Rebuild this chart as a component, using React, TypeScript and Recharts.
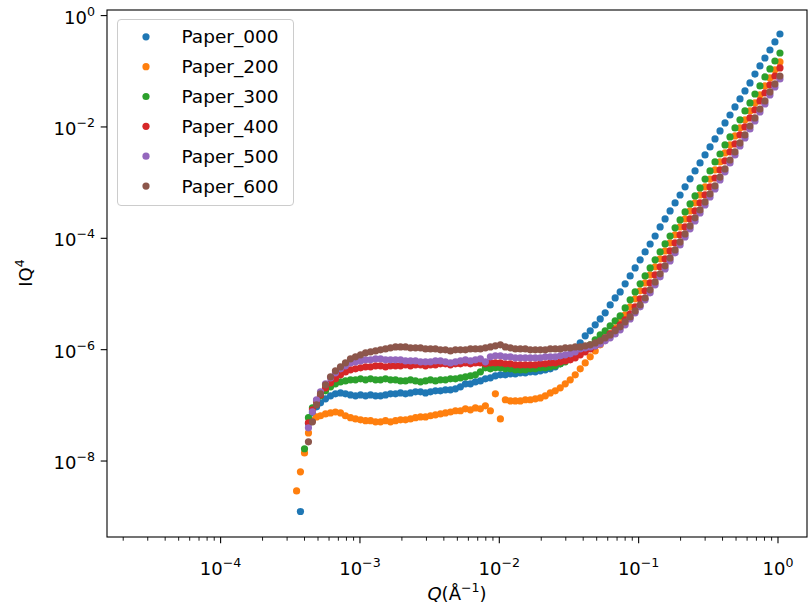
import React from "react";
import { ScatterChart, Scatter, XAxis, YAxis } from "recharts";

// Q grid (1/Å) shared by all samples; null = no point at that Q
const qValues = [
  3.51e-4, 3.74e-4, 4.0e-4, 4.27e-4, 4.56e-4, 4.88e-4, 5.21e-4,
  5.66e-4, 6.15e-4, 6.67e-4, 7.25e-4, 7.87e-4, 8.55e-4, 9.29e-4,
  1.01e-3, 1.097e-3, 1.191e-3, 1.294e-3, 1.405e-3, 1.526e-3, 1.657e-3, 1.8e-3, 1.955e-3, 2.123e-3,
  2.305e-3, 2.504e-3, 2.719e-3, 2.953e-3, 3.207e-3, 3.482e-3, 3.782e-3, 4.107e-3, 4.46e-3, 4.844e-3,
  5.26e-3, 5.713e-3, 6.204e-3, 6.737e-3, 7.317e-3, 7.946e-3, 8.629e-3, 9.371e-3, 1.018e-2, 1.105e-2,
  1.2e-2, 1.303e-2, 1.415e-2, 1.537e-2, 1.669e-2, 1.813e-2, 1.969e-2, 2.138e-2, 2.322e-2, 2.521e-2,
  2.738e-2, 2.974e-2, 3.229e-2, 3.507e-2, 3.809e-2, 4.136e-2, 4.492e-2, 4.878e-2, 5.298e-2, 5.753e-2,
  6.248e-2, 6.785e-2, 7.369e-2, 8.002e-2, 8.691e-2, 9.438e-2, 0.1025, 0.1113, 0.1209, 0.1313,
  0.1426, 0.1548, 0.1681, 0.1826, 0.1983, 0.2154, 0.2339, 0.254, 0.2758, 0.2996,
  0.3253, 0.3533, 0.3837, 0.4167, 0.4525, 0.4914, 0.5337, 0.5796, 0.6294, 0.6835,
  0.7423, 0.8062, 0.8755, 0.9508, 1.033,
];

const paper000 = [
  null, 1.24e-9, null, 4.7e-8, 7.3e-8, 9.4e-8, 1.11e-7,
  1.31e-7, 1.48e-7, 1.61e-7, 1.67e-7, 1.61e-7, 1.54e-7, 1.48e-7,
  1.54e-7, 1.48e-7, 1.54e-7, 1.48e-7, 1.48e-7, 1.54e-7, 1.61e-7, 1.61e-7, 1.67e-7, 1.61e-7,
  1.67e-7, 1.75e-7, 1.75e-7, 1.67e-7, 1.75e-7, 1.82e-7, 1.82e-7, 1.9e-7, 1.9e-7, 1.98e-7,
  2.15e-7, 2.43e-7, 2.43e-7, 2.64e-7, 2.75e-7, 2.99e-7, 3.12e-7, 3.39e-7, 3.53e-7, 3.53e-7,
  3.68e-7, 3.68e-7, 3.83e-7, 3.83e-7, 4.0e-7, 4.0e-7, 4.16e-7, 4.34e-7, 4.52e-7, 4.91e-7,
  5.56e-7, 6.56e-7, 8.1e-7, 1.03e-6, 1.33e-6, 1.77e-6, 2.18e-6, 2.79e-6, 3.57e-6, 4.58e-6,
  6.37e-6, 8.5e-6, 1.09e-5, 1.52e-5, 2.11e-5, 2.94e-5, 4.1e-5, 5.7e-5, 7.9e-5, 1.1e-4,
  1.6e-4, 2.23e-4, 3.1e-4, 4.32e-4, 6.0e-4, 8.4e-4, 1.17e-3, 1.62e-3, 2.26e-3, 3.14e-3,
  4.37e-3, 6.1e-3, 8.5e-3, 1.18e-2, 1.64e-2, 2.29e-2, 3.18e-2, 4.43e-2, 6.17e-2, 8.9e-2,
  0.1245, 0.173, 0.241, 0.336, 0.467,
];

const paper200 = [
  2.9e-9, 6.4e-9, 1.4e-8, 3.2e-8, 5.3e-8, 6.2e-8, 6.5e-8,
  7.0e-8, 7.3e-8, 7.6e-8, 7.3e-8, 6.5e-8, 6.0e-8, 5.7e-8,
  5.5e-8, 5.3e-8, 5.3e-8, 5.05e-8, 5.05e-8, 5.3e-8, 5.05e-8, 5.3e-8, 5.5e-8, 5.5e-8,
  5.7e-8, 6.0e-8, 6.2e-8, 6.2e-8, 6.5e-8, 6.75e-8, 7.0e-8, 7.3e-8, 7.6e-8, 8.0e-8,
  8.0e-8, 8.65e-8, 8.3e-8, 9.0e-8, 8.65e-8, 9.8e-8, 8.0e-8, 1.61e-7, 5.7e-8, 1.26e-7,
  1.2e-7, 1.2e-7, 1.2e-7, 1.26e-7, 1.26e-7, 1.31e-7, 1.36e-7, 1.48e-7, 1.67e-7, 1.82e-7,
  2.06e-7, 2.43e-7, 2.87e-7, 3.53e-7, 4.52e-7, 5.79e-7, 7.43e-7, 9.51e-7, 1.22e-6, 1.5e-6,
  1.92e-6, 2.46e-6, 3.16e-6, 4.21e-6, 5.87e-6, 8.17e-6, 1.14e-5, 1.58e-5, 2.2e-5, 3.07e-5,
  4.27e-5, 5.94e-5, 8.27e-5, 1.15e-4, 1.6e-4, 2.23e-4, 3.1e-4, 4.32e-4, 6.01e-4, 8.37e-4,
  1.16e-3, 1.69e-3, 2.35e-3, 3.41e-3, 4.75e-3, 6.89e-3, 9.6e-3, 1.34e-2, 1.94e-2, 2.7e-2,
  3.76e-2, 5.45e-2, 7.58e-2, 0.106, 0.147,
];

const paper300 = [
  null, null, 1.66e-8, 6.0e-8, 9.0e-8, 1.2e-7, 1.48e-7,
  1.82e-7, 2.15e-7, 2.43e-7, 2.64e-7, 2.75e-7, 2.87e-7, 2.87e-7,
  2.99e-7, 2.87e-7, 2.99e-7, 2.87e-7, 2.87e-7, 2.99e-7, 2.87e-7, 2.87e-7, 2.75e-7, 2.75e-7,
  2.87e-7, 2.75e-7, 2.64e-7, 2.75e-7, 2.87e-7, 2.75e-7, 2.87e-7, 2.87e-7, 2.99e-7, 2.99e-7,
  3.12e-7, 3.25e-7, 3.39e-7, 3.53e-7, 4.0e-7, 4.71e-7, 4.52e-7, 4.71e-7, 4.71e-7, 4.52e-7,
  4.52e-7, 4.34e-7, 4.34e-7, 4.34e-7, 4.52e-7, 4.52e-7, 4.71e-7, 4.71e-7, 4.91e-7, 5.12e-7,
  5.56e-7, 6.04e-7, 6.84e-7, 7.74e-7, 8.76e-7, 1.03e-6, 1.22e-6, 1.5e-6, 1.84e-6, 2.18e-6,
  2.68e-6, 3.29e-6, 4.04e-6, 5.63e-6, 7.84e-6, 1.09e-5, 1.52e-5, 2.11e-5, 2.94e-5, 4.1e-5,
  5.7e-5, 7.93e-5, 1.1e-4, 1.54e-4, 2.14e-4, 2.98e-4, 4.15e-4, 5.77e-4, 8.03e-4, 1.16e-3,
  1.62e-3, 2.35e-3, 3.27e-3, 4.75e-3, 6.61e-3, 9.6e-3, 1.34e-2, 1.94e-2, 2.7e-2, 3.91e-2,
  5.45e-2, 7.9e-2, 0.11, 0.153, 0.213,
];

const paper400 = [
  null, null, null, 4.85e-8, 8.3e-8, 1.2e-7, 1.54e-7,
  2.06e-7, 2.54e-7, 2.99e-7, 3.53e-7, 3.99e-7, 4.34e-7, 4.52e-7,
  4.71e-7, 4.91e-7, 4.91e-7, 5.12e-7, 5.12e-7, 4.91e-7, 5.12e-7, 5.12e-7, 5.12e-7, 5.34e-7,
  5.12e-7, 5.34e-7, 5.34e-7, 5.12e-7, 5.34e-7, 5.34e-7, 5.56e-7, 5.56e-7, 5.34e-7, 5.56e-7,
  5.56e-7, 5.79e-7, 5.56e-7, 5.79e-7, 5.79e-7, 5.56e-7, 5.79e-7, 5.79e-7, 5.79e-7, 5.56e-7,
  5.56e-7, 5.34e-7, 5.34e-7, 5.34e-7, 5.34e-7, 5.34e-7, 5.56e-7, 5.56e-7, 5.79e-7, 5.79e-7,
  6.04e-7, 6.29e-7, 6.56e-7, 7.13e-7, 8.07e-7, 9.13e-7, 1.03e-6, 1.17e-6, 1.38e-6, 1.63e-6,
  1.92e-6, 2.27e-6, 2.79e-6, 3.43e-6, 4.39e-6, 5.87e-6, 8.17e-6, 1.14e-5, 1.58e-5, 2.2e-5,
  3.07e-5, 4.27e-5, 5.94e-5, 8.27e-5, 1.15e-4, 1.6e-4, 2.23e-4, 3.1e-4, 4.32e-4, 6.01e-4,
  8.37e-4, 1.21e-3, 1.69e-3, 2.45e-3, 3.56e-3, 4.95e-3, 7.18e-3, 1.0e-2, 1.45e-2, 2.02e-2,
  2.93e-2, 4.08e-2, 5.68e-2, 8.23e-2, 0.115,
];

const paper500 = [
  null, null, null, 3.95e-8, 7.64e-8, 1.26e-7, 1.75e-7,
  2.43e-7, 3.12e-7, 3.83e-7, 4.52e-7, 5.12e-7, 5.79e-7, 6.04e-7,
  6.29e-7, 6.56e-7, 6.56e-7, 6.84e-7, 6.84e-7, 6.56e-7, 6.56e-7, 6.56e-7, 6.56e-7, 6.29e-7,
  6.29e-7, 6.29e-7, 6.04e-7, 6.04e-7, 6.04e-7, 6.29e-7, 6.29e-7, 6.04e-7, 5.79e-7, 6.04e-7,
  6.29e-7, 6.56e-7, 6.29e-7, 6.56e-7, 6.84e-7, 6.04e-7, 7.43e-7, 7.74e-7, 7.74e-7, 7.43e-7,
  7.43e-7, 7.13e-7, 7.13e-7, 7.13e-7, 7.13e-7, 7.13e-7, 7.13e-7, 7.43e-7, 7.43e-7, 7.43e-7,
  7.74e-7, 8.07e-7, 8.41e-7, 9.13e-7, 1.03e-6, 1.08e-6, 1.12e-6, 1.17e-6, 1.27e-6, 1.44e-6,
  1.63e-6, 1.92e-6, 2.27e-6, 2.79e-6, 3.57e-6, 4.58e-6, 5.87e-6, 7.84e-6, 1.05e-5, 1.46e-5,
  2.03e-5, 2.82e-5, 3.93e-5, 5.47e-5, 7.61e-5, 1.06e-4, 1.48e-4, 2.05e-4, 2.86e-4, 3.98e-4,
  5.54e-4, 7.71e-4, 1.12e-3, 1.56e-3, 2.26e-3, 3.14e-3, 4.56e-3, 6.35e-3, 9.21e-3, 1.28e-2,
  1.86e-2, 2.59e-2, 3.76e-2, 5.22e-2, 7.27e-2,
];

const paper600 = [
  null, null, null, 2.21e-8, 5.05e-8, 1.02e-7, 1.61e-7,
  2.33e-7, 3.25e-7, 4.16e-7, 4.91e-7, 5.79e-7, 6.84e-7, 7.43e-7,
  8.07e-7, 8.76e-7, 9.13e-7, 9.51e-7, 9.92e-7, 1.03e-6, 1.08e-6, 1.12e-6, 1.12e-6, 1.12e-6,
  1.08e-6, 1.08e-6, 1.08e-6, 1.03e-6, 1.03e-6, 1.03e-6, 9.92e-7, 9.92e-7, 9.51e-7, 9.92e-7,
  9.92e-7, 9.92e-7, 1.03e-6, 1.03e-6, 1.03e-6, 1.08e-6, 1.12e-6, 1.17e-6, 1.22e-6, 1.12e-6,
  1.08e-6, 1.03e-6, 1.03e-6, 1.03e-6, 9.92e-7, 9.92e-7, 9.92e-7, 9.92e-7, 1.03e-6, 1.03e-6,
  1.03e-6, 1.08e-6, 1.08e-6, 1.12e-6, 1.12e-6, 1.17e-6, 1.22e-6, 1.32e-6, 1.44e-6, 1.63e-6,
  1.84e-6, 2.18e-6, 2.57e-6, 3.16e-6, 3.88e-6, 4.97e-6, 6.37e-6, 8.51e-6, 1.19e-5, 1.65e-5,
  2.3e-5, 3.2e-5, 4.45e-5, 6.19e-5, 8.62e-5, 1.2e-4, 1.67e-4, 2.33e-4, 3.24e-4, 4.5e-4,
  6.27e-4, 8.73e-4, 1.26e-3, 1.76e-3, 2.55e-3, 3.56e-3, 5.16e-3, 7.18e-3, 1.04e-2, 1.45e-2,
  2.1e-2, 2.93e-2, 4.25e-2, 5.92e-2, 8.23e-2,
];

const seriesNames = ["Paper_000", "Paper_200", "Paper_300", "Paper_400", "Paper_500", "Paper_600"];
const seriesColors = ["#1f77b4", "#ff7f0e", "#2ca02c", "#d62728", "#9467bd", "#8c564b"];
const seriesValues = [paper000, paper200, paper300, paper400, paper500, paper600];

const xMajorTicks = [1e-4, 1e-3, 1e-2, 1e-1, 1];
const yMajorTicks = [1e-8, 1e-6, 1e-4, 1e-2, 1];
const minorDecades = [1e-5, 1e-4, 1e-3, 1e-2, 1e-1];
const minorSteps = [2, 3, 4, 5, 6, 7, 8, 9];

const X_DOMAIN: [number, number] = [1.53e-5, 1.615];
const Y_DOMAIN: [number, number] = [4.32e-10, 1.26];

const FONT = "DejaVu Sans, sans-serif";

const xTicks = [
  ...xMajorTicks,
  ...minorDecades.flatMap((d) => minorSteps.map((m) => m * d)),
]
  .filter((v) => v > X_DOMAIN[0] && v < X_DOMAIN[1])
  .sort((a, b) => a - b);

const series = seriesNames.map((name, i) => ({
  name,
  color: seriesColors[i],
  points: qValues
    .map((q, j) => ({ q, v: seriesValues[i][j] }))
    .filter((p) => p.v !== null),
}));

function isDecade(v: number) {
  const l = Math.log10(v);
  return Math.abs(l - Math.round(l)) < 1e-6;
}

function expLabel(v: number) {
  const e = Math.round(Math.log10(v));
  return e < 0 ? "\u2212" + Math.abs(e) : String(e);
}

function XTick({ x, y, payload }: any) {
  const v = payload.value;
  if (!isDecade(v)) {
    return <line x1={x} x2={x} y1={y} y2={y + 3.7} stroke="#000" strokeWidth={0.9} />;
  }
  return (
    <g>
      <line x1={x} x2={x} y1={y} y2={y + 6.3} stroke="#000" strokeWidth={1.1} />
      <text x={x} y={y + 38} textAnchor="middle" fontSize={18} fontFamily={FONT} fill="#000">
        10
        <tspan dy={-8} fontSize={12.6}>
          {expLabel(v)}
        </tspan>
      </text>
    </g>
  );
}

function YTick({ x, y, payload }: any) {
  const v = payload.value;
  return (
    <g>
      <line x1={x - 6.3} x2={x} y1={y} y2={y} stroke="#000" strokeWidth={1.1} />
      <text x={x - 12} y={y + 8} textAnchor="end" fontSize={18} fontFamily={FONT} fill="#000">
        10
        <tspan dy={-8} fontSize={12.6}>
          {expLabel(v)}
        </tspan>
      </text>
    </g>
  );
}

export default function App() {
  return (
    <div style={{ position: "absolute", left: 0, top: 0, width: 808, height: 609, background: "#fff" }}>
      <ScatterChart width={808} height={609} margin={{ top: 10, right: 1, bottom: 0, left: 0 }}>
        <XAxis
          type="number"
          dataKey="q"
          scale="log"
          domain={X_DOMAIN}
          allowDataOverflow
          ticks={xTicks}
          interval={0}
          tick={<XTick />}
          tickLine={false}
          axisLine={false}
          tickSize={0}
          tickMargin={0}
          height={72}
        />
        <YAxis
          type="number"
          dataKey="v"
          scale="log"
          domain={Y_DOMAIN}
          allowDataOverflow
          ticks={yMajorTicks}
          interval={0}
          tick={<YTick />}
          tickLine={false}
          axisLine={false}
          tickSize={0}
          tickMargin={0}
          width={107}
        />
        {series.map((s) => (
          <Scatter
            key={s.name}
            name={s.name}
            data={s.points}
            fill={s.color}
            isAnimationActive={false}
            shape={(p: any) => <circle cx={p.cx} cy={p.cy} r={3.6} fill={s.color} />}
          />
        ))}
      </ScatterChart>

      {/* frame, legend and axis titles */}
      <svg
        width={808}
        height={609}
        style={{ position: "absolute", left: 0, top: 0, pointerEvents: "none" }}
        fontFamily={FONT}
      >
        <rect x={107} y={10} width={700} height={527} fill="none" stroke="#000" strokeWidth={1.1} />

        <rect x={117.5} y={19.5} width={176} height={186} rx={3.5} fill="rgba(255,255,255,0.8)" stroke="#cccccc" strokeWidth={1} />
        {series.map((s, i) => (
          <g key={s.name}>
            <circle cx={146} cy={36.8 + i * 29.85} r={3.6} fill={s.color} />
            <text x={181.5} y={36.8 + i * 29.85 + 6.6} fontSize={18.5} fill="#000">
              {s.name}
            </text>
          </g>
        ))}

        <text x={457} y={600} textAnchor="middle" fontSize={18} fill="#000">
          <tspan fontStyle="italic">Q</tspan>(Å
          <tspan dy={-8} fontSize={12.6}>
            {"\u22121"}
          </tspan>
          <tspan dy={8}>)</tspan>
        </text>
        <text x={32} y={273} transform="rotate(-90, 32, 273)" textAnchor="middle" fontSize={18} fill="#000">
          IQ
          <tspan dy={-8} fontSize={12.6}>
            4
          </tspan>
        </text>
      </svg>
    </div>
  );
}
